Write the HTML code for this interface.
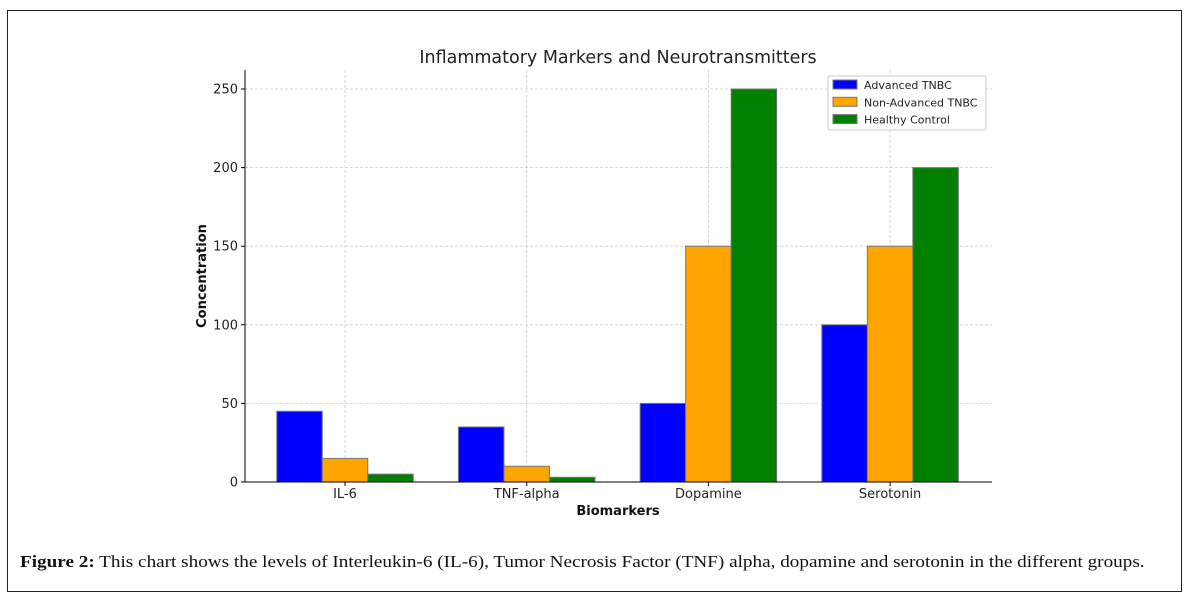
<!DOCTYPE html>
<html><head><meta charset="utf-8">
<style>
body{margin:0;background:#fff;width:1190px;height:602px;overflow:hidden;font-family:"DejaVu Sans","Liberation Sans",sans-serif}
#frame{position:absolute;left:7px;top:10px;width:1175px;height:582px;border:1px solid #222;box-sizing:border-box}
#cap{position:absolute;left:20px;top:552px;font-family:"Liberation Serif",serif;font-size:16.5px;color:#111;white-space:nowrap;transform:scaleX(1.162);transform-origin:0 50%}
svg{position:absolute;left:0;top:0}
</style></head><body>
<div id="frame"></div>
<svg id="chart" width="1190" height="602"></svg>
<div id="cap"><b>Figure 2:</b> This chart shows the levels of Interleukin-6 (IL-6), Tumor Necrosis Factor (TNF) alpha, dopamine and serotonin in the different groups.</div>
<script>
const categories=["IL-6","TNF-alpha","Dopamine","Serotonin"];
const seriesNames=["Advanced TNBC","Non-Advanced TNBC","Healthy Control"];
const advanced=[45,35,50,100];
const nonAdvanced=[15,10,150,150];
const healthy=[5,3,250,200];
const yTicks=[0,50,100,150,200,250];
const colors=["#0000ff","#ffa500","#008000"];
const series=[advanced,nonAdvanced,healthy];
const svg=document.getElementById('chart');
const NS="http://www.w3.org/2000/svg";
const L=245,R=992,T=70,B=482;
const y=v=>B-(v/250)*(B-89);
const step=181.7, x0=345;
const x=i=>x0+i*step;
const bw=45.5;
function el(t,a,txt){const e=document.createElementNS(NS,t);for(const k in a)e.setAttribute(k,a[k]);if(txt!=null)e.textContent=txt;svg.appendChild(e);return e;}
yTicks.forEach(v=>{
 const g=el('line',{x1:L,x2:R,y1:y(v),y2:y(v),stroke:'#ccc','stroke-dasharray':'3,2','stroke-width':0.8});
 
 
 const t=el('line',{x1:L-4,x2:L,y1:y(v),y2:y(v),stroke:'#000'});
 
 
 const l=el('text',{x:L-7,y:y(v)+4.5,'text-anchor':'end','font-size':13,fill:'#222'},v);
 
 
});
categories.forEach((c,i)=>{
 const g=el('line',{x1:x(i),x2:x(i),y1:T,y2:B,stroke:'#ccc','stroke-dasharray':'3,2','stroke-width':0.8});
 
 
});
series.forEach((s,si)=>{
 s.forEach((v,i)=>{
  const cx=x(i)+(si-1)*bw;
  const r=el('rect',{x:cx-bw/2,y:y(v),width:bw,height:B-y(v),fill:colors[si],stroke:'#777','stroke-width':1});
  
  
 });
});
categories.forEach((c,i)=>{
 const t=el('line',{x1:x(i),x2:x(i),y1:B,y2:B+4,stroke:'#000'});
 
 
 const l=el('text',{x:x(i),y:B+16,'text-anchor':'middle','font-size':13,fill:'#222'},c);
 
 
});
const ax=el('path',{d:`M${L},${T}V${B}H${R}`,fill:'none',stroke:'#000','stroke-width':1});


const ti=el('text',{x:618,y:63,'text-anchor':'middle','font-size':17.5,fill:'#222'},'Inflammatory Markers and Neurotransmitters');


const xt=el('text',{x:618,y:515,'text-anchor':'middle','font-size':13,'font-weight':'bold',fill:'#111'},'Biomarkers');


const yt=el('text',{x:0,y:0,transform:'translate(206,276) rotate(-90)','text-anchor':'middle','font-size':13,'font-weight':'bold',fill:'#111'},'Concentration');


const lg=el('rect',{x:828,y:76,width:158,height:54,rx:2,fill:'#fff',stroke:'#ccc'});


seriesNames.forEach((n,i)=>{
 const sw=el('rect',{x:833,y:80+i*17.3,width:24,height:9,fill:colors[i],stroke:'#777'});
 
 
 const t=el('text',{x:864,y:89+i*17.3,'font-size':11,fill:'#222'},n);
 
 
});
</script>
</body></html>
